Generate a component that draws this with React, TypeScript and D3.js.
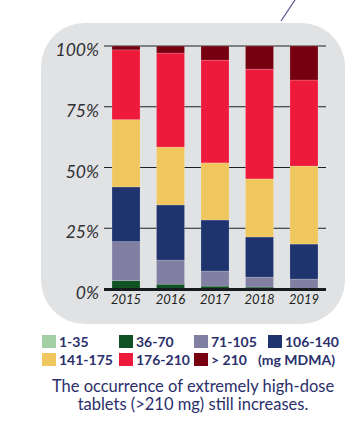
import * as d3 from "d3";

const years = ["2015", "2016", "2017", "2018", "2019"];
const doseKeys = ["1-35", "36-70", "71-105", "106-140", "141-175", "176-210", "> 210"];
const doseColors = ["#a3cfa5", "#115224", "#8180a3", "#1f346e", "#f0c75e", "#ee1a3b", "#76000f"];

// share of tablets per dose class (%), one array per dose class, one value per year
const d1_35 = [0, 0, 0, 0, 0];
const d36_70 = [3.5, 2, 1.2, 0.8, 0];
const d71_105 = [16, 9.9, 6.2, 4.1, 4.1];
const d106_140 = [22.5, 22.7, 21, 16.5, 14.4];
const d141_175 = [27.7, 23.8, 23.5, 23.9, 32.1];
const d176_210 = [28.7, 38.7, 42.3, 45.2, 35.4];
const dOver210 = [1.6, 2.9, 5.8, 9.5, 14];

const yTicks = [0, 25, 50, 75, 100];
const caption = ["The occurrence of extremely high-dose", "tablets (>210 mg) still increases."];

const W = 352;
const H = 424;
const ink = "#2b2f6b";

export default function App() {
  const series = [d1_35, d36_70, d71_105, d106_140, d141_175, d176_210, dOver210];
  const rows = years.map((y, i) => {
    const r: any = { year: y };
    doseKeys.forEach((k, j) => (r[k] = series[j][i]));
    return r;
  });
  const stacked = d3.stack().keys(doseKeys)(rows);

  const x = d3.scaleBand().domain(years).range([104, 326]).paddingInner(0.37).paddingOuter(0.18);
  const y = d3.scaleLinear().domain([0, 100]).range([289, 46]);

  return (
    <svg width={W} height={H} style={{ position: "absolute", left: 0, top: 0 }}>
      <line x1={295} y1={0} x2={281} y2={21} stroke="#5c5a8c" strokeWidth={1.3} />
      <rect x={41} y={23} width={304} height={301} rx={44} fill="#e1e2e4" />

      {yTicks.map((t) => (
        <g key={t}>
          {t > 0 && <line x1={104} x2={326} y1={y(t)} y2={y(t)} stroke="#1c1f22" strokeWidth={1} />}
          <text
            x={99}
            y={y(t) + 10}
            textAnchor="end"
            fontFamily="Lato"
            fontStyle="italic"
            fontSize={17.5}
            fill="#2e3033"
          >
            {t}%
          </text>
        </g>
      ))}

      {stacked.map((s, j) => (
        <g key={s.key} fill={doseColors[j]}>
          {s.map((d, i) =>
            d[1] - d[0] > 0 ? (
              <rect
                key={i}
                x={x(years[i])}
                width={x.bandwidth()}
                y={y(d[1])}
                height={y(d[0]) - y(d[1])}
                stroke="#ffffff"
                strokeOpacity={0.35}
                strokeWidth={0.5}
              />
            ) : null
          )}
        </g>
      ))}

      <line x1={104} x2={326} y1={289.5} y2={289.5} stroke="#161b1e" strokeWidth={3} />

      {years.map((yr) => (
        <text
          key={yr}
          x={(x(yr) as number) + x.bandwidth() / 2}
          y={304}
          textAnchor="middle"
          fontFamily="Lato"
          fontStyle="italic"
          fontSize={13}
          fill="#1c1f22"
        >
          {yr}
        </text>
      ))}

      {doseKeys.map((k, j) => {
        const col = j % 4;
        const row = Math.floor(j / 4);
        const lx = [42, 119, 194, 268][col];
        const ly = 335 + row * 18;
        return (
          <g key={k}>
            <rect x={lx} y={ly} width={14} height={13} fill={doseColors[j]} />
            <text x={lx + 17} y={ly + 11.5} fontFamily="Lato" fontWeight="bold" fontSize={14} fill={ink}>
              {k}
            </text>
          </g>
        );
      })}
      <text x={258} y={364.5} fontFamily="Lato" fontWeight="bold" fontSize={14} fill={ink}>
        (mg MDMA)
      </text>

      {caption.map((c, i) => (
        <text key={i} x={193} y={392 + i * 18} textAnchor="middle" fontFamily="Lato" fontSize={16.5} fill={ink}>
          {c}
        </text>
      ))}
    </svg>
  );
}
